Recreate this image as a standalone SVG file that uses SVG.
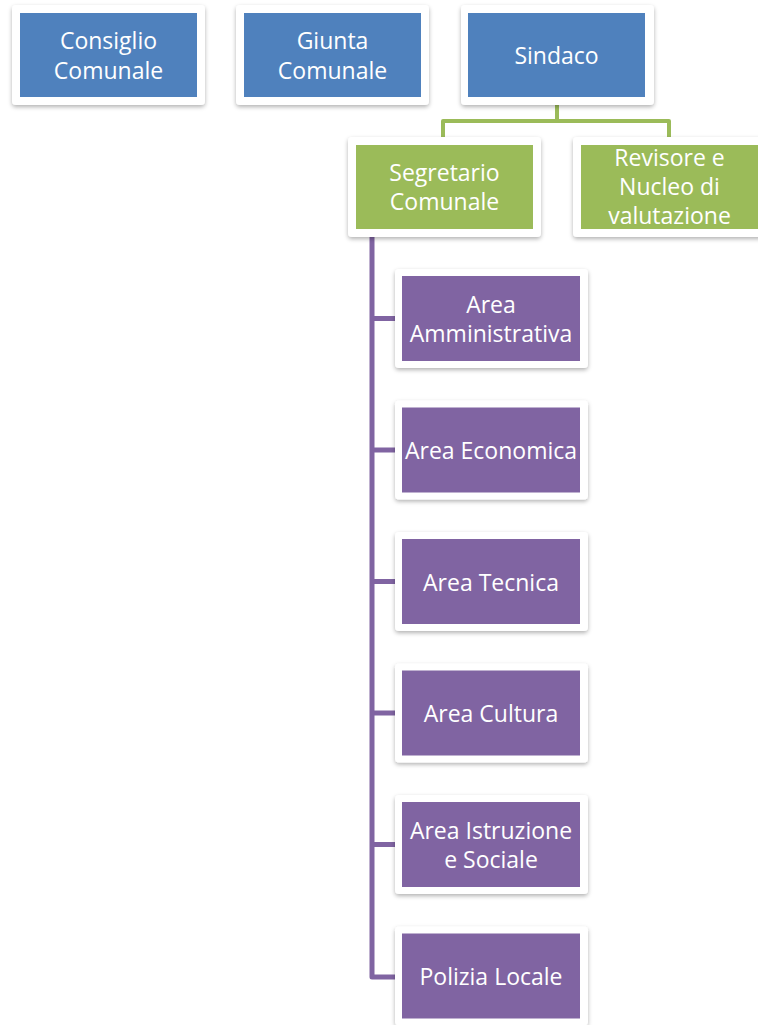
<svg xmlns="http://www.w3.org/2000/svg" width="758" height="1025" viewBox="0 0 758 1025">
<defs>
<filter id="sh" x="-10%" y="-10%" width="125%" height="130%">
<feDropShadow dx="0" dy="2" stdDeviation="2" flood-color="#000" flood-opacity="0.3"/>
</filter>
</defs>
<style>
.frame{fill:#fff;filter:url(#sh)}
.blue{fill:#4F81BD}
.green{fill:#9BBB59}
.purple{fill:#8064A2}
text{font-family:"Open Sans","Liberation Sans",sans-serif;font-size:23px;fill:#fff;text-anchor:middle;dominant-baseline:central}
.cg{fill:none;stroke:#9BBB59;stroke-width:4;stroke-linejoin:round}
.cp{fill:none;stroke:#8064A2;stroke-width:5;stroke-linejoin:round}
</style>
<rect width="758" height="1025" fill="#fff"/>
<g id="connectors">
<path class="cg" d="M557 105V121H443V137M557 121H669V137"/>
<path class="cp" d="M372 237V977H395M372 318.5H395M372 450H395M372 581.5H395M372 713H395M372 844.5H395"/>
</g>
<g id="consiglio"><rect class="frame" x="12" y="5" width="193" height="100" rx="4"/><rect class="blue" x="20" y="13" width="177" height="84"/><text x="108.5" y="40">Consiglio</text><text x="108.5" y="70">Comunale</text></g>
<g id="giunta"><rect class="frame" x="236" y="5" width="193" height="100" rx="4"/><rect class="blue" x="244" y="13" width="177" height="84"/><text x="332.5" y="40">Giunta</text><text x="332.5" y="70">Comunale</text></g>
<g id="sindaco"><rect class="frame" x="461" y="5" width="193" height="100" rx="4"/><rect class="blue" x="468" y="13" width="177" height="84"/><text x="556.5" y="55">Sindaco</text></g>
<g id="segretario"><rect class="frame" x="348" y="137" width="193" height="100" rx="4"/><rect class="green" x="356" y="145" width="177" height="84"/><text x="444.5" y="172">Segretario</text><text x="444.5" y="201">Comunale</text></g>
<g id="revisore"><rect class="frame" x="573" y="137" width="193" height="100" rx="4"/><rect class="green" x="581" y="145" width="177" height="84"/><text x="669.5" y="157">Revisore e</text><text x="669.5" y="186">Nucleo di</text><text x="669.5" y="215">valutazione</text></g>
<g id="amministrativa"><rect class="frame" x="395" y="269" width="193" height="99" rx="4"/><rect class="purple" x="402" y="276" width="178" height="85"/><text x="491" y="304">Area</text><text x="491" y="333">Amministrativa</text></g>
<g id="economica"><rect class="frame" x="395" y="400.5" width="193" height="99" rx="4"/><rect class="purple" x="402" y="407.5" width="178" height="85"/><text x="491" y="450">Area Economica</text></g>
<g id="tecnica"><rect class="frame" x="395" y="532" width="193" height="99" rx="4"/><rect class="purple" x="402" y="539" width="178" height="85"/><text x="491" y="581.5">Area Tecnica</text></g>
<g id="cultura"><rect class="frame" x="395" y="663.5" width="193" height="99" rx="4"/><rect class="purple" x="402" y="670.5" width="178" height="85"/><text x="491" y="713">Area Cultura</text></g>
<g id="istruzione"><rect class="frame" x="395" y="795" width="193" height="99" rx="4"/><rect class="purple" x="402" y="802" width="178" height="85"/><text x="491" y="830">Area Istruzione</text><text x="491" y="859">e Sociale</text></g>
<g id="polizia"><rect class="frame" x="395" y="926.5" width="193" height="99" rx="4"/><rect class="purple" x="402" y="933.5" width="178" height="85"/><text x="491" y="976">Polizia Locale</text></g>
</svg>
